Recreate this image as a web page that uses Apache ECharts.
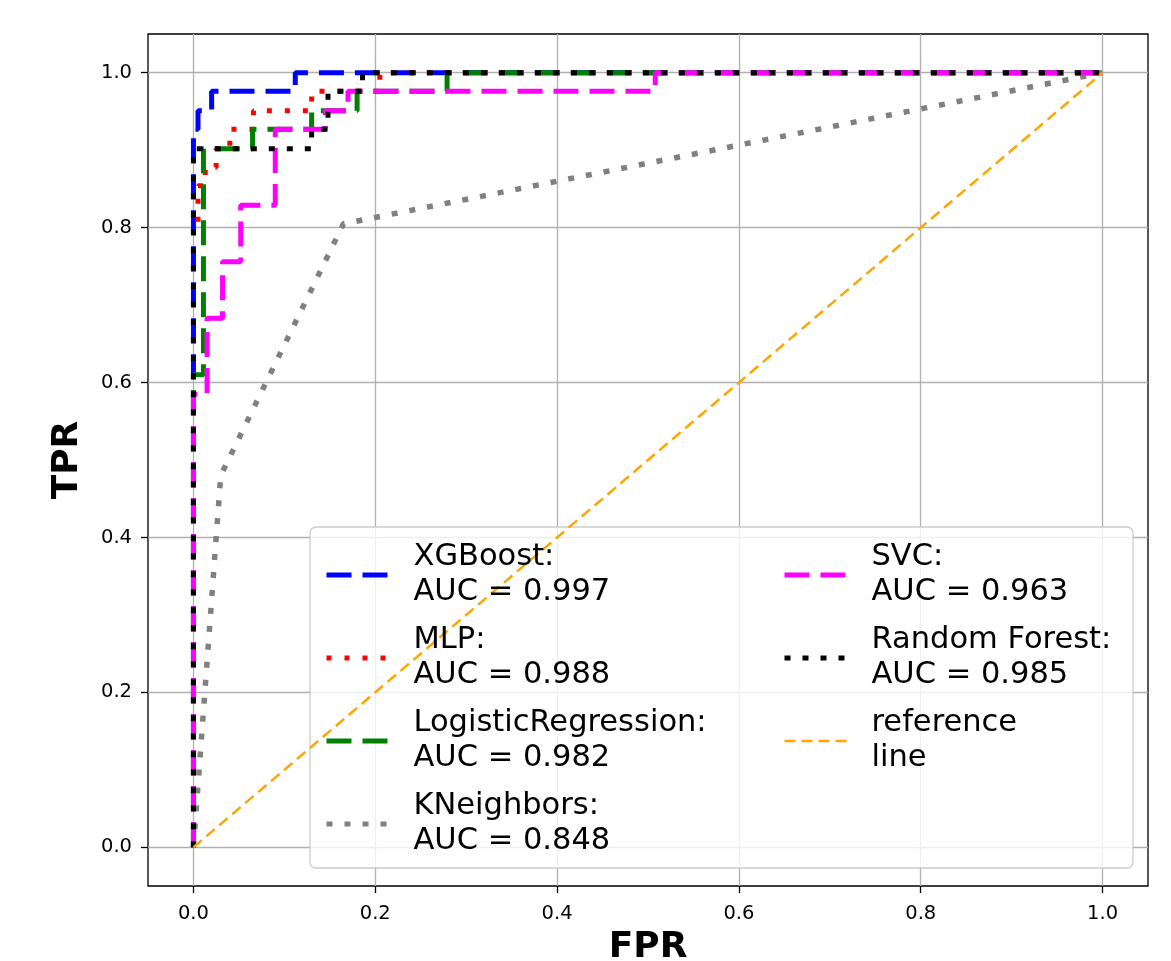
<!DOCTYPE html>
<html>
<head>
<meta charset="utf-8">
<title>ROC</title>
<script src="https://cdn.jsdelivr.net/npm/echarts@6.0.0/dist/echarts.min.js"></script>
<style>
  html, body { margin: 0; padding: 0; background: #fff; }
  #chart { width: 1171px; height: 961px; }
</style>
</head>
<body>
<div id="chart"></div>
<script>
// ROC curve points
const xgbFpr = [0, 0, 0.005, 0.005, 0.02, 0.02, 0.112, 0.112, 1];
const xgbTpr = [0, 0.927, 0.927, 0.951, 0.951, 0.976, 0.976, 1, 1];

const mlpFpr = [0, 0, 0.005, 0.005, 0.013, 0.013, 0.025, 0.025, 0.04, 0.04, 0.066, 0.066, 0.13, 0.13, 0.205, 0.205, 1];
const mlpTpr = [0, 0.805, 0.805, 0.854, 0.854, 0.878, 0.878, 0.902, 0.902, 0.927, 0.927, 0.951, 0.951, 0.976, 0.976, 1, 1];

const lrFpr = [0, 0, 0.011, 0.011, 0.065, 0.065, 0.13, 0.13, 0.18, 0.18, 0.279, 0.279, 1];
const lrTpr = [0, 0.61, 0.61, 0.902, 0.902, 0.927, 0.927, 0.951, 0.951, 0.976, 0.976, 1, 1];

const knnFpr = [0, 0.03, 0.165, 1];
const knnTpr = [0, 0.48, 0.805, 1];

const svcFpr = [0, 0, 0.015, 0.015, 0.032, 0.032, 0.052, 0.052, 0.09, 0.09, 0.145, 0.145, 0.17, 0.17, 0.508, 0.508, 1];
const svcTpr = [0, 0.585, 0.585, 0.683, 0.683, 0.756, 0.756, 0.829, 0.829, 0.927, 0.927, 0.951, 0.951, 0.976, 0.976, 1, 1];

const rfFpr = [0, 0, 0.13, 0.13, 0.148, 0.148, 0.186, 0.186, 1];
const rfTpr = [0, 0.902, 0.902, 0.927, 0.927, 0.976, 0.976, 1, 1];

const refFpr = [0, 1];
const refTpr = [0, 1];

const modelNames = ['XGBoost', 'MLP', 'LogisticRegression', 'KNeighbors', 'SVC', 'Random Forest'];
const aucValues = ['0.997', '0.988', '0.982', '0.848', '0.963', '0.985'];
const tickValues = [0, 0.2, 0.4, 0.6, 0.8, 1.0];

const FONT = 'DejaVu Sans';

const toPairs = (xs, ys) => xs.map((x, i) => [x, ys[i]]);

const chart = echarts.init(document.getElementById('chart'));

const lineSeries = (name, xs, ys, color, width, dash) => ({
  name: name,
  type: 'line',
  data: toPairs(xs, ys),
  symbol: 'none',
  showSymbol: false,
  animation: false,
  lineStyle: { color: color, width: width, type: dash, cap: 'butt' },
  itemStyle: { color: color },
  emphasis: { disabled: true },
});

const axisCommon = {
  type: 'value',
  min: -0.05,
  max: 1.05,
  axisLine: { show: false, onZero: false },
  axisTick: {
    show: true,
    customValues: tickValues,
    length: 7,
    lineStyle: { color: '#000', width: 1.3 },
  },
  axisLabel: {
    customValues: tickValues,
    formatter: (v) => v.toFixed(1),
    color: '#000',
    fontFamily: FONT,
    fontSize: 19.5,
  },
  splitLine: { show: true, lineStyle: { color: '#b0b0b0', width: 1.3 } },
  nameLocation: 'middle',
  nameTextStyle: { fontFamily: FONT, fontSize: 36, fontWeight: 'bold', color: '#000' },
};

const legendFormatter = (name) => {
  const i = modelNames.indexOf(name);
  if (i < 0) return 'reference\nline';
  return name + ':\nAUC = ' + aucValues[i];
};

const legendCommon = {
  orient: 'vertical',
  top: 540,
  padding: 0,
  itemGap: 13,
  itemWidth: 62,
  itemHeight: 14,
  selectedMode: false,
  formatter: legendFormatter,
  lineStyle: { width: 5 },
  itemStyle: { opacity: 0 },
  textStyle: {
    fontFamily: FONT,
    fontSize: 30.5,
    lineHeight: 35,
    color: '#000',
    padding: [0, 0, 0, 20],
  },
};

const option = {
  animation: false,
  backgroundColor: '#fff',
  grid: {
    left: 148,
    right: 23,
    top: 34,
    bottom: 75,
    show: true,
    borderColor: '#000',
    borderWidth: 1.3,
    containLabel: false,
    outerBoundsMode: 'none',
  },
  xAxis: Object.assign({}, axisCommon, {
    name: 'FPR',
    nameGap: 44,
    axisLabel: Object.assign({}, axisCommon.axisLabel, { margin: 18 }),
  }),
  yAxis: Object.assign({}, axisCommon, {
    name: 'TPR',
    nameGap: 62,
    axisLabel: Object.assign({}, axisCommon.axisLabel, { margin: 16 }),
  }),
  legend: [
    Object.assign({}, legendCommon, {
      left: 324,
      data: ['XGBoost', 'MLP', 'LogisticRegression', 'KNeighbors'],
    }),
    Object.assign({}, legendCommon, {
      left: 782,
      data: [
        'SVC',
        'Random Forest',
        { name: 'reference line', lineStyle: { width: 2.5 } },
      ],
    }),
  ],
  graphic: [
    {
      type: 'rect',
      z: 3,
      shape: { x: 310, y: 527, width: 823, height: 341, r: 6 },
      style: { fill: 'rgba(255,255,255,0.8)', stroke: '#cccccc', lineWidth: 1.3 },
      silent: true,
    },
  ],
  series: [
    lineSeries('XGBoost', xgbFpr, xgbTpr, '#0000ff', 5, [25, 11]),
    lineSeries('MLP', mlpFpr, mlpTpr, '#ff0000', 5, [5, 13]),
    lineSeries('LogisticRegression', lrFpr, lrTpr, '#008000', 5, [25, 11]),
    lineSeries('KNeighbors', knnFpr, knnTpr, '#808080', 5.5, [6, 12]),
    lineSeries('SVC', svcFpr, svcTpr, '#ff00ff', 5, [25, 11]),
    lineSeries('Random Forest', rfFpr, rfTpr, '#000000', 5, [6, 12]),
    lineSeries('reference line', refFpr, refTpr, '#ffa500', 2.5, [11, 6]),
  ],
};

chart.setOption(option);
</script>
</body>
</html>
